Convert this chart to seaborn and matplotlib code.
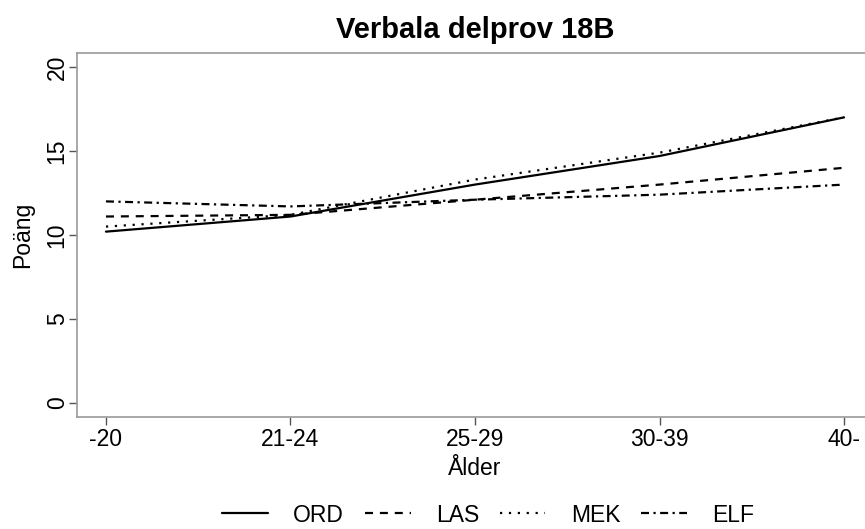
import pandas as pd
import matplotlib.pyplot as plt
import seaborn as sns

ages = ['-20', '21-24', '25-29', '30-39', '40-']
ord_vals = [10.2, 11.1, 13.0, 14.7, 17.0]
las_vals = [11.1, 11.2, 12.1, 13.0, 14.0]
mek_vals = [10.5, 11.2, 13.3, 14.9, 17.0]
elf_vals = [12.0, 11.7, 12.1, 12.4, 13.0]

series = {'ORD': ord_vals, 'LAS': las_vals, 'MEK': mek_vals, 'ELF': elf_vals}
rows = []
for name, vals in series.items():
    for i, v in enumerate(vals):
        rows.append({'pos': i, 'Ålder': ages[i], 'Poäng': v, 'prov': name})
df = pd.DataFrame(rows)

sns.set_style('white')
plt.rcParams['font.family'] = ['Liberation Sans', 'DejaVu Sans']
plt.rcParams['text.color'] = 'black'
plt.rcParams['axes.labelcolor'] = 'black'

fig = plt.figure(figsize=(8.65, 5.29), dpi=100)
ax = fig.add_axes([77 / 865, 1 - 417 / 529, 796 / 865, 364 / 529])

dashes = {'ORD': '', 'LAS': (3.6, 3.1), 'MEK': (1, 3), 'ELF': (3.6, 2, 1, 2)}
sns.lineplot(data=df, x='pos', y='Poäng', hue='prov', style='prov',
             palette=['black'] * 4, dashes=dashes, linewidth=1.6, ax=ax,
             legend=False)

ax.set_xlim(-0.157, 4.157)
ax.set_ylim(-0.83, 20.83)
ax.set_xticks(range(len(ages)))
ax.set_xticklabels(ages, fontsize=16.5)
ax.set_yticks([0, 5, 10, 15, 20])
ax.set_yticklabels(['0', '5', '10', '15', '20'], fontsize=16.5, rotation=90, va='center')
ax.tick_params(axis='both', length=6, width=1, color='#555555', direction='out',
               labelcolor='black')
ax.tick_params(axis='x', pad=2)
ax.tick_params(axis='y', pad=0)
ax.tick_params(bottom=True, left=True)
for s in ax.spines.values():
    s.set_color('#999999')
    s.set_linewidth(1.2)

ax.set_xlabel('Ålder', fontsize=16.5, labelpad=4)
ax.set_ylabel('Poäng', fontsize=16.5, labelpad=8)
fig.text(475 / 865, 1 - 30 / 529, 'Verbala delprov 18B', ha='center', va='center',
         fontsize=21, fontweight='bold', color='black')

handles = []
for k in series:
    h = plt.Line2D([], [], color='black', linewidth=1.6)
    if dashes[k] != '':
        h.set_dashes(dashes[k])
    handles.append(h)
fig.legend(handles, list(series.keys()), loc='center', bbox_to_anchor=(488 / 865, 1 - 515 / 529),
           ncol=4, frameon=False, fontsize=16.5, handlelength=2.0, columnspacing=0.9,
           handletextpad=1.1, borderpad=0, borderaxespad=0)

fig.savefig('out.png', dpi=100)
